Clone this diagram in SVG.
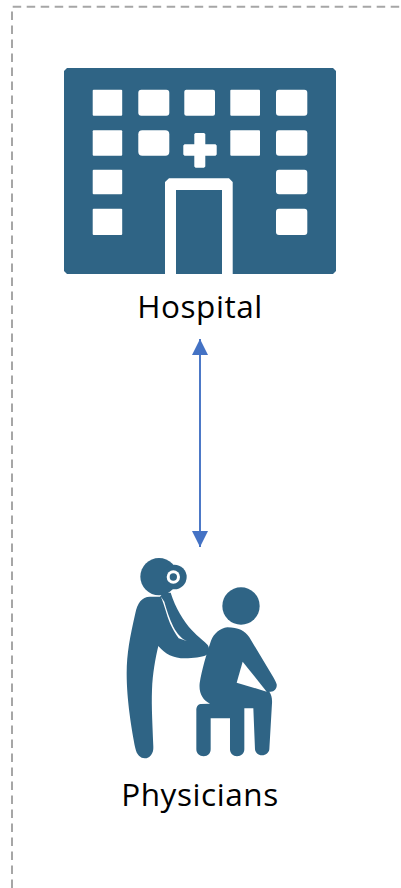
<svg xmlns="http://www.w3.org/2000/svg" width="401" height="888" viewBox="0 0 401 888">
<defs>
<style>
.ico{fill:#2f6485}
.win{fill:#fff}
.lbl{font-family:"Open Sans","Noto Sans",sans-serif;font-size:31.5px;letter-spacing:.58px;fill:#000;text-anchor:middle}
.frame{fill:none;stroke:#a6a6a6;stroke-width:2;stroke-dasharray:8.5 5.5}
</style>
<marker id="ah" markerUnits="userSpaceOnUse" markerWidth="16" markerHeight="16" refX="16" refY="8" orient="auto-start-reverse"><path d="M0 0L16 8L0 16Z" fill="#4472c4"/></marker>
</defs>
<rect width="401" height="888" fill="#fff"/>
<path class="frame" d="M12 888V6.7H401"/>
<g id="connectors"><line x1="200" y1="339" x2="200" y2="547" stroke="#4472c4" stroke-width="1.9" marker-start="url(#ah)" marker-end="url(#ah)"/></g>
<g id="hospital">
<path class="ico" d="M67 68H333L336 71V271L333 274H67L64 271V71Z"/>
<g class="win">
<rect x="92.7" y="89.7" width="29.5" height="26" rx="1"/><rect x="138.3" y="89.7" width="31" height="26" rx="3"/><rect x="184.3" y="89.7" width="30.7" height="26" rx="2"/><rect x="230.3" y="89.7" width="29.7" height="26" rx="1"/><rect x="276" y="89.7" width="31.3" height="26" rx="3"/>
<rect x="92.7" y="130.3" width="29.5" height="25.4" rx="1"/><rect x="138.3" y="130.3" width="31" height="25.4" rx="4"/><rect x="230.3" y="130.3" width="29.7" height="25.4" rx="1"/><rect x="276" y="130.3" width="31.3" height="25.4" rx="3"/>
<rect x="92.7" y="169.7" width="29.5" height="24.6" rx="1"/><rect x="276" y="169.7" width="31.3" height="24.6" rx="3"/>
<rect x="92.7" y="208.7" width="29.5" height="26.3" rx="1"/><rect x="276" y="208.7" width="31.3" height="26.3" rx="3"/>
<path d="M194.3 134L195.5 133H204L205.3 134V144.3H215.5L216.7 145.5V154.5L215.5 155.7H205.3V166.5L204 167.7H195.5L194.3 166.5V155.7H184.5L183.3 154.5V145.5L184.5 144.3H194.3Z"/>
<path d="M165 274V182L169 178.3H229L232.7 182V274H222V190H176V274Z"/>
</g>
<text class="lbl" x="200" y="318">Hospital</text>
</g>
<g id="physicians">
<g transform="translate(110 550) scale(.33333)">
<g class="ico">
<circle cx="147" cy="80" r="56"/>
<circle cx="193" cy="81" r="37"/>
<path d="M120 140C95 140 82 160 76 190C60 260 50 310 50 370C50 450 65 540 76 595C80 615 92 625 104 625C120 625 131 610 130 590C128 530 124 470 126 420C128 370 136 325 145 288C165 312 190 325 225 325C250 325 275 322 288 316C298 310 300 295 293 285C285 275 265 262 245 240C220 212 197 175 182 128L160 128L150 140C140 140 130 140 120 140Z"/>
<circle cx="393" cy="168" r="56"/>
<path d="M352 232C330 235 312 250 303 272C290 310 275 360 269 400C266 430 278 450 300 461L272 462C262 464 259 472 259 482V598C259 610 268 619 281 619C294 619 302 610 302 598V505H360V598C360 610 369 619 381 619C394 619 403 610 403 598V475H430L435 598C436 608 444 616 456 616C468 616 477 608 478 598L486 460C487 445 484 433 478 425C492 428 502 415 500 403C498 395 492 385 486 375L418 262C405 243 385 232 352 232Z"/>
</g>
<path d="M398 335L380 398L470 425Z" fill="#fff"/>
<circle cx="190" cy="81" r="20" fill="#fff"/>
<circle cx="190" cy="81" r="11" fill="#2f6485"/>
<path d="M153 140L163 155C170 180 178 205 190 230C202 252 215 266 230 273L206 265C195 250 187 235 180 220C170 195 163 165 153 140Z" fill="#fff"/>
</g>
<text class="lbl" x="200" y="806">Physicians</text>
</g>
</svg>
